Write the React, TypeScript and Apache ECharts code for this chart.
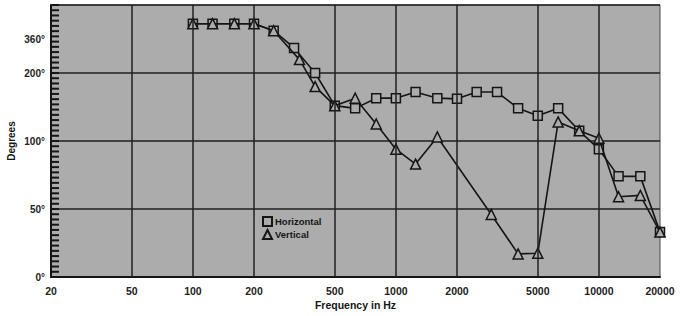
import React, { useEffect, useRef } from "react";
import * as echarts from "echarts";

// Frequencies (Hz) and phase readings (degrees)
const hFreq = [100, 125, 160, 200, 250, 315, 400, 500, 630, 800, 1000, 1250, 1600, 2000, 2500, 3150, 4000, 5000, 6300, 8000, 10000, 12500, 16000, 20000];
const hDeg = [432, 432, 432, 432, 399, 318, 200, 152, 148, 163, 163, 172, 163, 162, 172, 172, 148, 137, 148, 115, 94, 74, 74, 33];

const vFreq = [100, 125, 160, 200, 250, 335, 400, 500, 630, 800, 1000, 1250, 1600, 2950, 4000, 5000, 6300, 8000, 10000, 12500, 16000, 20000];
const vDeg = [432, 432, 432, 432, 399, 263, 180, 152, 163, 125, 94, 83, 106, 46, 17, 17.5, 128, 115, 104, 59, 60, 33];

const xTickFreqs = [20, 50, 100, 200, 500, 1000, 2000, 5000, 10000, 20000];
const xGridFreqs = [50, 100, 200, 500, 1000, 2000, 5000, 10000];
const yTickDegs = [0, 50, 100, 200, 360];
// ruler-style minor ticks on the degree axis: 13 per labelled step, 4 steps
const minorTicksPerStep = 13;
const yMinorTicks = Array.from({ length: 4 * minorTicksPerStep + 1 }, (_, k) => k / minorTicksPerStep);

// The chart's degree scale: 0, 50, 100, 200 equally spaced, 360 half a step above 200
function degToAxis(d: number): number {
  if (d <= 50) return d / 50;
  if (d <= 100) return 1 + (d - 50) / 50;
  if (d <= 200) return 2 + (d - 100) / 100;
  return 3 + (d - 200) / 320;
}

const BG = "#acacac";
const INK = "#151515";

export default function App() {
  const ref = useRef<HTMLDivElement>(null);
  useEffect(() => {
    if (!ref.current) return;
    const chart = echarts.init(ref.current, undefined, { renderer: "svg" });
    const yLabelMap: Record<string, string> = {};
    yTickDegs.forEach((d) => {
      yLabelMap[degToAxis(d).toFixed(3)] = d + "°";
    });
    const font = "'Liberation Sans', Arial, sans-serif";
    const xMin = Math.log10(20);
    chart.setOption({
      animation: false,
      backgroundColor: "#ffffff",
      textStyle: { fontFamily: font },
      grid: {
        left: 51,
        right: 30,
        top: 5,
        bottom: 39,
        containLabel: false,
        outerBoundsMode: "none",
        show: true,
        backgroundColor: BG,
        borderColor: "#4a4a4a",
        borderWidth: 1,
      },
      legend: {
        orient: "vertical",
        left: 257,
        top: 211,
        itemGap: 2,
        itemWidth: 9,
        itemHeight: 9,
        textStyle: { fontSize: 9.5, fontWeight: "bold", color: INK, fontFamily: font, padding: [0, 0, 0, -2] },
        data: [
          { name: "Horizontal", icon: "rect" },
          { name: "Vertical", icon: "triangle" },
        ],
      },
      xAxis: {
        type: "value",
        min: xMin,
        max: Math.log10(20000),
        name: "Frequency in Hz",
        nameLocation: "middle",
        nameGap: 22,
        nameMoveOverlap: false,
        nameTextStyle: { fontSize: 10.5, fontWeight: "bold", color: INK },
        axisLine: { show: true, lineStyle: { color: INK, width: 2 } },
        axisTick: { show: false },
        splitLine: { show: false },
        axisLabel: {
          customValues: xTickFreqs.map((f) => Math.log10(f)),
          formatter: (v: number) => String(Math.round(Math.pow(10, v))),
          fontSize: 10.5,
          fontWeight: "bold",
          color: "#222",
          margin: 8,
        },
      },
      yAxis: {
        type: "value",
        min: 0,
        max: 4,
        interval: 1,
        name: "Degrees",
        nameLocation: "middle",
        nameGap: 35,
        nameMoveOverlap: false,
        nameTextStyle: { fontSize: 10, fontWeight: "bold", color: INK },
        axisLine: { show: true, lineStyle: { color: INK, width: 2 } },
        axisTick: { show: false },
        splitLine: { show: true, lineStyle: { color: "#202020", width: 1.5 } },
        axisLabel: {
          customValues: yTickDegs.map(degToAxis),
          formatter: (v: number) => yLabelMap[v.toFixed(3)] ?? "",
          fontSize: 10,
          fontWeight: "bold",
          color: "#222",
          margin: 6,
        },
      },
      series: [
        {
          name: "Horizontal",
          type: "line",
          data: hFreq.map((f, i) => [Math.log10(f), degToAxis(hDeg[i])]),
          symbol: "rect",
          symbolSize: 9,
          showAllSymbol: true,
          lineStyle: { color: INK, width: 1.6 },
          itemStyle: { color: BG, borderColor: INK, borderWidth: 1.5 },
          z: 3,
          markLine: {
            silent: true,
            symbol: ["none", "none"],
            label: { show: false },
            lineStyle: { color: "#202020", width: 1.5, type: "solid" },
            data: xGridFreqs.map((f) => ({ xAxis: Math.log10(f) })),
          },
        },
        {
          name: "Vertical",
          type: "line",
          data: vFreq.map((f, i) => [Math.log10(f), degToAxis(vDeg[i])]),
          symbol: "triangle",
          symbolSize: 10,
          showAllSymbol: true,
          lineStyle: { color: INK, width: 1.6 },
          itemStyle: { color: BG, borderColor: INK, borderWidth: 1.5 },
          z: 4,
        },
      ],
    });
    // Ruler ticks along the degree axis, placed through the chart's own scales
    const tickEls = yMinorTicks.map((v) => {
      const p = chart.convertToPixel({ gridIndex: 0 }, [xMin, v]) as number[];
      return {
        type: "rect",
        silent: true,
        z: 50,
        shape: { x: p[0], y: p[1] - 1, width: 8, height: 2 },
        style: { fill: INK },
      };
    });
    chart.setOption({ graphic: { elements: tickEls } });
    return () => chart.dispose();
  }, []);
  return <div ref={ref} style={{ width: 690, height: 316, position: "absolute", left: 0, top: 0 }} />;
}
